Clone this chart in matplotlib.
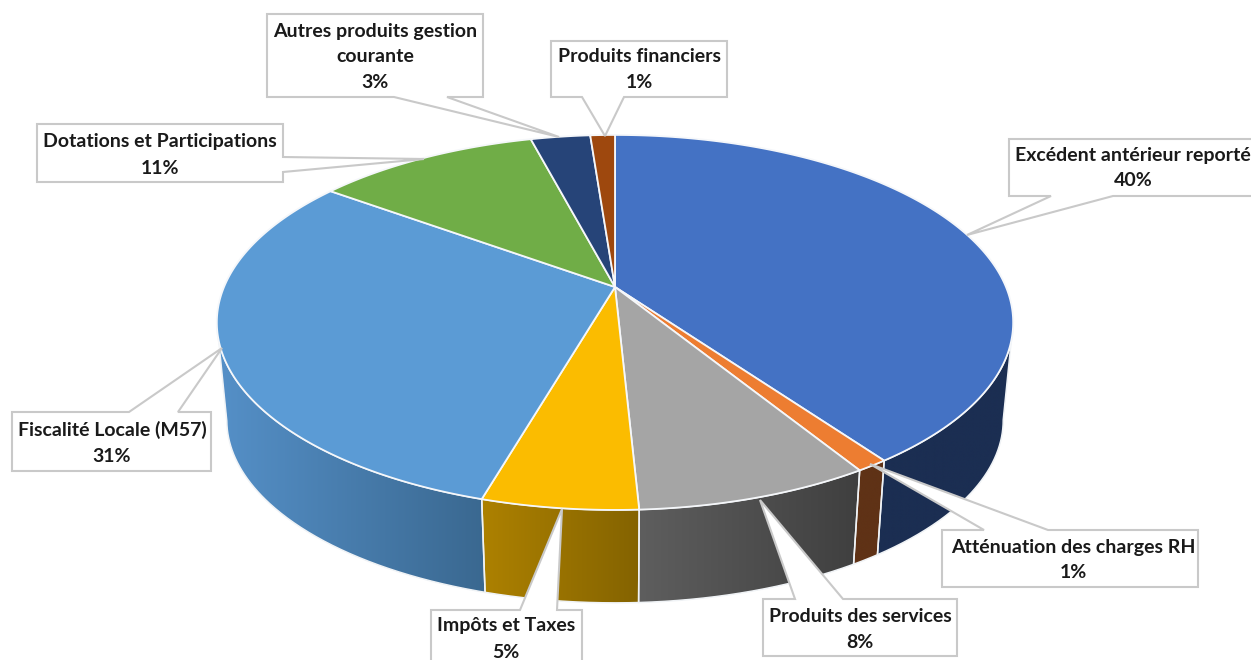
import numpy as np
import matplotlib
matplotlib.use("Agg")
import matplotlib.pyplot as plt
from matplotlib.colors import to_rgb
from matplotlib.patches import Polygon

# ---- data ----
categories = ["Excédent antérieur reporté", "Atténuation des charges RH",
              "Produits des services", "Impôts et Taxes",
              "Fiscalité Locale (M57)", "Dotations et Participations",
              "Autres produits gestion\ncourante", "Produits financiers"]
values = [40.1, 1.1, 8.0, 5.3, 30.52, 10.88, 2.9, 1.2]

# ---- styles ----
top_colors = ["#4472C4", "#ED7D31", "#A5A5A5", "#FBBC00", "#5B9BD5", "#70AD47", "#264478", "#9E480E"]
wall_from = ["#1B2E52", "#5F3216", "#5E5E5E", "#AD8100", "#5590C8", "#70AD47", "#264478", "#9E480E"]
wall_to = ["#1B2E52", "#5F3216", "#3F3F3F", "#846300", "#3A6890", "#70AD47", "#264478", "#9E480E"]

# callout layout: box (l, t, r, b), text centre x, first line y, pointer side/base, tip
callouts = [
    dict(box=(1009, 139, 1262, 196), cx=1133, y=155, side="b", base=(1051, 1113), tip=(967, 235)),
    dict(box=(942, 530, 1198, 587), cx=1073, y=547, side="t", base=(984, 1048), tip=(870, 464)),
    dict(box=(763, 599, 957, 656), cx=860, y=616, side="t", base=(795, 843), tip=(760, 500)),
    dict(box=(431, 610, 582, 672), cx=506, y=626, side="t", base=(520, 557), tip=(562, 509)),
    dict(box=(12, 412, 211, 471), cx=112, y=430, side="t", base=(129, 178), tip=(222, 348)),
    dict(box=(37, 124, 283, 182), cx=160, y=142, side="r", base=(157, 172), tip=(424, 159)),
    dict(box=(267, 14, 483, 97), cx=375, y=31, side="b", base=(394, 447), tip=(559, 137)),
    dict(box=(551, 41, 727, 97), cx=639, y=57, side="b", base=(582, 624), tip=(605, 136)),
]
LINE_H = 26.0
FONT_SIZE = 14.0
BOX_EDGE = "#C9C9C9"

# pie geometry in pixel coordinates of the axes
CX, APEX_Y, K = 615.0, 287.0, 0.189
RX, RY = 391.0, 180.8
LOW_SCALE, LOW_APEX_Y = 0.975, 385.5
FRONT_A, FRONT_B = np.pi / 2 + K, 3 * np.pi / 2 - K


def project(theta, scale=1.0, apex=APEX_Y):
    """theta clockwise from the top of the pie; perspective projection of the disc."""
    X, Y = np.sin(theta), np.cos(theta)
    w = 1 + K * Y
    return CX + scale * RX * X / w, apex - scale * RY * Y / w


fig = plt.figure(figsize=(12.51, 6.60), dpi=100, facecolor="white")
ax = fig.add_axes([0, 0, 1, 1])

edges = np.cumsum([0.0] + values) / sum(values) * 2 * np.pi
spans = list(zip(edges[:-1], edges[1:]))

# walls: the part of each slice turned to the viewer, with a horizontal colour ramp
for i, (a, b) in enumerate(spans):
    a2, b2 = max(a, FRONT_A), min(b, FRONT_B)
    if a2 >= b2:
        continue
    t = np.linspace(a2, b2, 200)
    xt, yt = project(t)
    xb, yb = project(t, LOW_SCALE, LOW_APEX_Y)
    pts = np.column_stack([np.r_[xt, xb[::-1]], np.r_[yt, yb[::-1]]])
    poly = Polygon(pts, closed=True, fc="none", ec="none", zorder=1)
    ax.add_patch(poly)
    ramp = np.linspace(0, 1, 256)[None, :, None]
    grad = (np.array(to_rgb(wall_from[i]))[None, None, :] * (1 - ramp)
            + np.array(to_rgb(wall_to[i]))[None, None, :] * ramp)
    im = ax.imshow(grad, extent=(pts[:, 0].min(), pts[:, 0].max(), pts[:, 1].max(), pts[:, 1].min()),
                   aspect="auto", zorder=1, interpolation="bilinear")
    im.set_clip_path(poly)
    ax.plot(np.r_[pts[:, 0], pts[0, 0]], np.r_[pts[:, 1], pts[0, 1]],
            color="#F0F3F6", lw=1.1, zorder=1.5, solid_joinstyle="round")

ax.set_xlim(0, 1251)
ax.set_ylim(660, 0)
ax.axis("off")

# top face
for i, (a, b) in enumerate(spans):
    t = np.linspace(a, b, 200)
    x, y = project(t)
    ax.fill(np.r_[CX, x], np.r_[APEX_Y, y], facecolor=top_colors[i], edgecolor="#F5F7FA",
            lw=1.3, zorder=2, joinstyle="round")

# callouts
for cat, val, c in zip(categories, values, callouts):
    l, t, r, b = c["box"]
    p, q = c["base"]
    tip = c["tip"]
    if c["side"] == "b":
        pts = [(l, t), (r, t), (r, b), (q, b), tip, (p, b), (l, b)]
    elif c["side"] == "t":
        pts = [(l, t), (p, t), tip, (q, t), (r, t), (r, b), (l, b)]
    else:
        pts = [(l, t), (r, t), (r, p), tip, (r, q), (r, b), (l, b)]
    ax.add_patch(Polygon(pts, closed=True, fc="white", ec=BOX_EDGE, lw=1.5, zorder=3, joinstyle="miter"))
    lines = cat.split("\n") + [f"{round(val / sum(values) * 100)}%"]
    for n, line in enumerate(lines):
        ax.text(c["cx"], c["y"] + n * LINE_H, line, ha="center", va="center",
                fontfamily="Lato", fontweight="bold", fontsize=FONT_SIZE, color="#1A1A1A", zorder=4)

fig.savefig("out.png", dpi=100, facecolor="white")
